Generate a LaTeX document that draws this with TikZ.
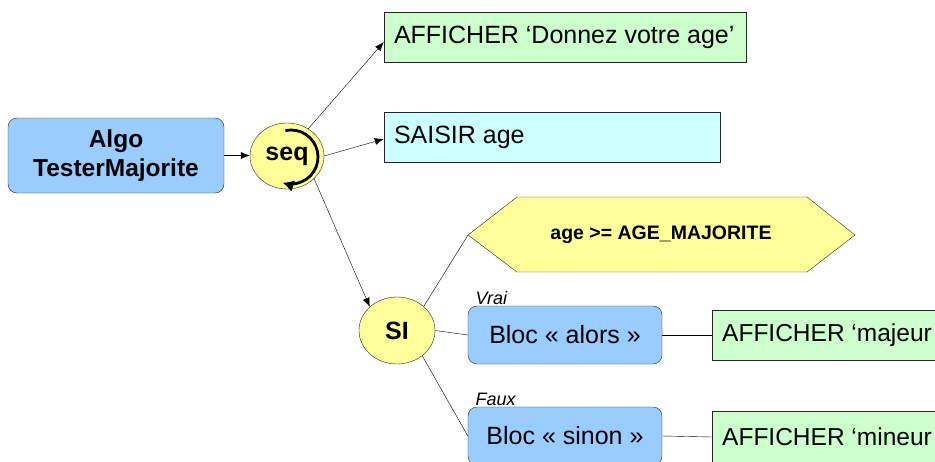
\documentclass[tikz,border=0pt]{standalone}
\usepackage{fontspec}
\setmainfont{Liberation Sans}
\usetikzlibrary{arrows.meta,shapes.geometric}
\definecolor{bleu}{HTML}{99CCFF}
\definecolor{jaune}{HTML}{FFFF99}
\definecolor{vert}{HTML}{CCFFCC}
\definecolor{ciel}{HTML}{CCFFFF}
\newcommand{\grand}{\fontsize{25}{29}\selectfont}

\begin{document}
\begin{tikzpicture}[x=1pt,y=-1pt,
	bloc/.style={draw=black!85,fill=bleu,rounded corners=9pt,minimum width=194pt,minimum height=58pt,font=\grand},
	instr/.style={draw=black!85,rectangle,minimum height=50pt,inner xsep=10pt,align=left,font=\grand},
	rond/.style={draw=black!85,fill=jaune,ellipse,inner sep=0pt,font=\grand\bfseries},
	fleche/.style={-{Latex[length=9pt,width=7pt]},thin},
	lien/.style={thin}]
	\useasboundingbox (0,0) rectangle (935,461);
	\clip (0,0) rectangle (935,461);
	% racine et sequence
	\node[bloc,minimum width=216pt,minimum height=75pt,align=center,font=\fontsize{24.5}{29}\selectfont\bfseries] (algo) at (116,155.5) {Algo\\TesterMajorite};
	\node[rond,minimum width=74pt,minimum height=66pt] (seq) at (287,156) {seq};
	\draw[line width=2.8pt,-{Latex[length=11pt,width=12pt]}] ([shift={(-102:27)}]291,157) arc[start angle=-102,end angle=108,radius=27];
	% instructions de la sequence
	\node[instr,fill=vert] (aff) at (565,37) {\makebox[342pt][l]{AFFICHER ‘Donnez votre age’}};
	\node[instr,fill=ciel] (saisir) at (552,137) {\makebox[316pt][l]{SAISIR age}};
	\node[rond,minimum width=76pt,minimum height=67pt] (si) at (397,330.5) {SI};
	% condition
	\draw[draw=black!85,fill=jaune] (468,235) -- (517,197) -- (807,197) -- (855,235) -- (807,272) -- (517,272) -- cycle;
	\coordinate (pointe) at (468,235);
	\node[font=\fontsize{19.5}{22}\selectfont\bfseries] (cond) at (661,235) {age >= AGE\_MAJORITE};
	% branches
	\node[bloc] (alors) at (565,335) {Bloc « alors »};
	\node[bloc] (sinon) at (565,436) {Bloc « sinon »};
	\node[anchor=base west,font=\fontsize{18}{20}\selectfont\itshape] (vrai) at (472,304) {Vrai};
	\node[anchor=base west,font=\fontsize{18}{20}\selectfont\itshape] (faux) at (472,405) {Faux};
	\node[instr,fill=vert,anchor=west,font=\fontsize{24.5}{29}\selectfont] (majeur) at (712,335) {\makebox[240pt][l]{AFFICHER ‘majeur}};
	\node[instr,fill=vert,anchor=west,minimum height=52pt,font=\fontsize{24.5}{29}\selectfont] (mineur) at (712,437) {\makebox[240pt][l]{AFFICHER ‘mineur}};
	% liens
	\draw[fleche] (algo.east) -- (algo.east -| seq.west);
	\draw[fleche] (seq.52) -- ([yshift=-5pt]aff.west);
	\draw[fleche] (seq.east) -- ([yshift=-2pt]saisir.west);
	\draw[fleche] (seq.-40) -- (si.139);
	\draw[lien] (si.42) -- (pointe);
	\draw[lien] (si.east) -- (alors.west);
	\draw[lien] (si.-45) -- (sinon.west);
	\draw[lien] (alors.east) -- (majeur.west);
	\draw[lien] (sinon.east) -- (mineur.west);
\end{tikzpicture}
\end{document}
